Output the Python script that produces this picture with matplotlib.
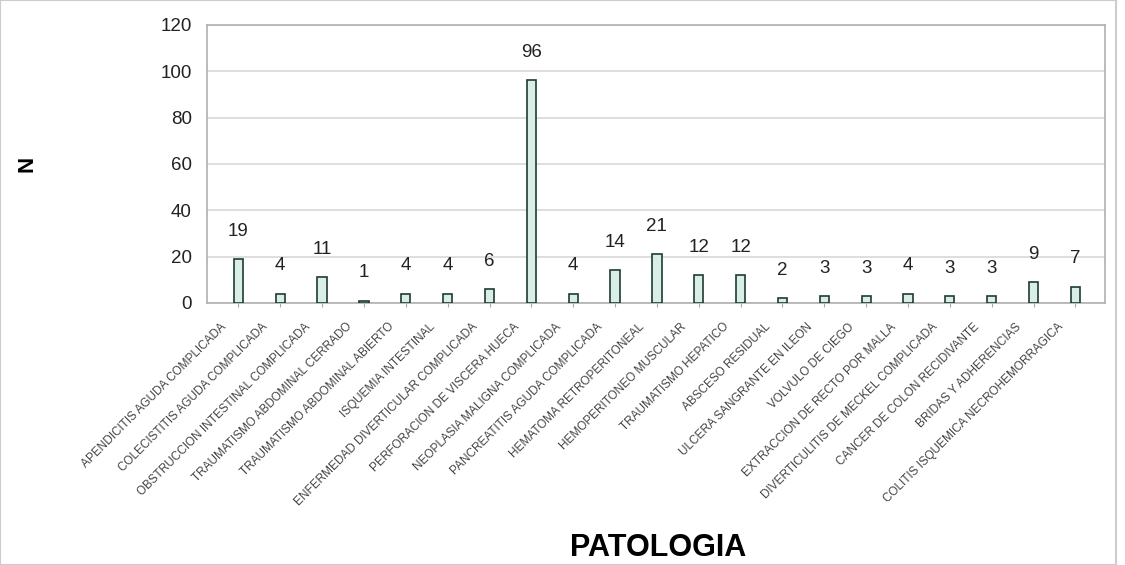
import numpy as np
import matplotlib
matplotlib.use("Agg")
import matplotlib.pyplot as plt
from matplotlib.patches import Rectangle
from matplotlib.transforms import ScaledTranslation

plt.rcParams['font.family'] = ['Liberation Sans', 'DejaVu Sans']

# Casos por patologia
patologias = [
    "APENDICITIS AGUDA COMPLICADA",
    "COLECISTITIS AGUDA COMPLICADA",
    "OBSTRUCCION INTESTINAL COMPLICADA",
    "TRAUMATISMO ABDOMINAL CERRADO",
    "TRAUMATISMO ABDOMINAL ABIERTO",
    "ISQUEMIA INTESTINAL",
    "ENFERMEDAD DIVERTICULAR COMPLICADA",
    "PERFORACION DE VISCERA HUECA",
    "NEOPLASIA MALIGNA COMPLICADA",
    "PANCREATITIS AGUDA COMPLICADA",
    "HEMATOMA RETROPERITONEAL",
    "HEMOPERITONEO MUSCULAR",
    "TRAUMATISMO HEPATICO",
    "ABSCESO RESIDUAL",
    "ULCERA SANGRANTE EN ILEON",
    "VOLVULO DE CIEGO",
    "EXTRACCION DE RECTO POR MALLA",
    "DIVERTICULITIS DE MECKEL COMPLICADA",
    "CANCER DE COLON RECIDIVANTE",
    "BRIDAS Y ADHERENCIAS",
    "COLITIS ISQUEMICA NECROHEMORRAGICA",
]
casos = [19, 4, 11, 1, 4, 4, 6, 96, 4, 14, 21, 12, 12, 2, 3, 3, 4, 3, 3, 9, 7]
y_ticks = [0, 20, 40, 60, 80, 100, 120]

fig = plt.figure(figsize=(11.25, 5.65), dpi=100)
ax = fig.add_axes([0.184, 0.464, 0.798, 0.492])

x = np.arange(len(casos))
ax.bar(x, casos, width=0.22, color='#d9efe6', edgecolor='#1e3b33', linewidth=1.2, zorder=3)

for xi, v in zip(x, casos):
    ax.annotate(str(v), (xi, v), xytext=(0, 20), textcoords='offset points',
                ha='center', va='center', fontsize=13.5, color='#222222')

ax.set_xlim(-0.75, len(casos) - 0.3)
ax.set_ylim(0, 120)
ax.set_yticks(y_ticks)
ax.yaxis.grid(True, color='#d8d8d8', linewidth=1.2, zorder=0)
ax.tick_params(axis='y', length=0, labelsize=13.5, pad=11, labelcolor='#222222')
ax.tick_params(axis='x', length=3, color='#aaaaaa', pad=13)
ax.set_xticks(x)
ax.set_xticklabels(patologias, rotation=45, ha='right', va='center',
                   rotation_mode='anchor', fontsize=8.5, color='#444444')
# desplazar las etiquetas un poco a la izquierda de cada barra
shift = ScaledTranslation(-0.14, 0, fig.dpi_scale_trans)
for lab in ax.get_xticklabels():
    lab.set_transform(lab.get_transform() + shift)

for s in ax.spines.values():
    s.set_color('#b0b0b0')
    s.set_linewidth(1.2)

fig.text(0.024, 0.71, "N", rotation=90, fontsize=16, fontweight='bold',
         ha='center', va='center')
fig.text(0.585, 0.03, "PATOLOGIA", fontsize=22, fontweight='bold',
         ha='center', va='center')

# marco exterior de la figura
fig.patches.append(Rectangle((0.0, 0.0), 0.992, 1.0, transform=fig.transFigure,
                             fill=False, edgecolor='#cccccc', linewidth=1.5))

fig.savefig("out.png", dpi=100)
